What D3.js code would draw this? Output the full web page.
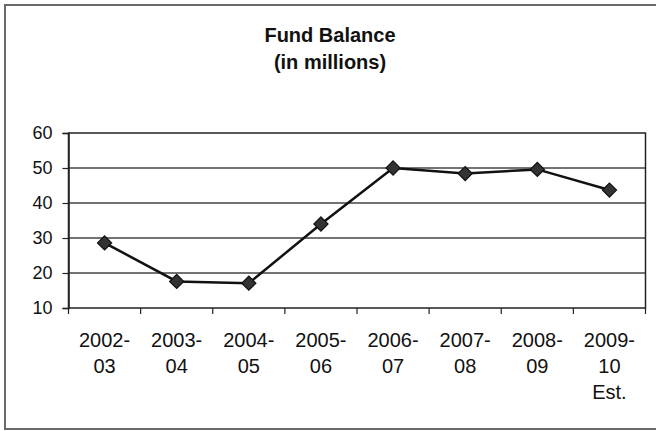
<!DOCTYPE html>
<html>
<head>
<meta charset="utf-8">
<script src="https://cdn.jsdelivr.net/npm/d3@7"></script>
<style>
  body { margin: 0; background: #fff; }
  svg text { font-family: "Liberation Sans", Arial, sans-serif; fill: #111; }
</style>
</head>
<body>
<svg id="chart" width="656" height="431"></svg>
<script>
// data
const categories = ["2002-\n03", "2003-\n04", "2004-\n05", "2005-\n06", "2006-\n07", "2007-\n08", "2008-\n09", "2009-\n10\nEst."];
const balances = [28.6, 17.6, 17.1, 34.0, 50.0, 48.4, 49.6, 43.7];
const yTicks = [10, 20, 30, 40, 50, 60];
const titleLines = ["Fund Balance", "(in millions)"];

const svg = d3.select("#chart");

// outer chart frame (right side runs off the page)
svg.append("rect")
  .attr("x", 5).attr("y", 5)
  .attr("width", 670).attr("height", 424)
  .attr("fill", "none")
  .attr("stroke", "#6a6a6a")
  .attr("stroke-width", 2);

// title
svg.append("g").selectAll("text")
  .data(titleLines)
  .join("text")
  .attr("x", 330)
  .attr("y", (d, i) => 42 + i * 27)
  .attr("text-anchor", "middle")
  .style("font-size", "20px")
  .style("font-weight", "bold")
  .text(d => d);

const margin = { left: 68.5, right: 645.5, top: 133, bottom: 308 };

const x = d3.scaleBand()
  .domain(categories)
  .range([margin.left, margin.right]);

const y = d3.scaleLinear()
  .domain([10, 60])
  .range([margin.bottom, margin.top]);

// gridlines
svg.append("g").selectAll("line")
  .data(yTicks.filter(t => t > 10 && t < 60))
  .join("line")
  .attr("x1", margin.left).attr("x2", margin.right)
  .attr("y1", d => y(d)).attr("y2", d => y(d))
  .attr("stroke", "#444")
  .attr("stroke-width", 1.5);

// plot frame
svg.append("rect")
  .attr("x", margin.left).attr("y", margin.top)
  .attr("width", margin.right - margin.left)
  .attr("height", margin.bottom - margin.top)
  .attr("fill", "none")
  .attr("stroke", "#222")
  .attr("stroke-width", 1.5);

// y axis
const yAxis = svg.append("g")
  .attr("transform", `translate(${margin.left},0)`)
  .call(d3.axisLeft(y).tickValues(yTicks).tickSize(6).tickPadding(10));
yAxis.select(".domain").attr("stroke", "#222").attr("stroke-width", 1.5);
yAxis.selectAll(".tick line").attr("stroke", "#222").attr("stroke-width", 1.2);
yAxis.selectAll("text")
  .style("font-size", "18px")
  .style("font-family", "'Liberation Sans', Arial, sans-serif")
  .attr("fill", "#111");

// x axis: ticks at the category boundaries
const boundaries = categories.map(c => x(c)).concat([margin.right]);
svg.append("g").selectAll("line")
  .data(boundaries)
  .join("line")
  .attr("x1", d => d).attr("x2", d => d)
  .attr("y1", margin.bottom).attr("y2", margin.bottom + 6)
  .attr("stroke", "#222")
  .attr("stroke-width", 1.2);

const labels = svg.append("g").selectAll("text")
  .data(categories)
  .join("text")
  .attr("text-anchor", "middle")
  .style("font-size", "20px");
labels.selectAll("tspan")
  .data(d => d.split("\n").map(s => ({ s, c: d })))
  .join("tspan")
  .attr("x", d => x(d.c) + x.bandwidth() / 2)
  .attr("y", (d, i) => 347 + i * 26)
  .text(d => d.s);

// line
const line = d3.line()
  .x((d, i) => x(categories[i]) + x.bandwidth() / 2)
  .y(d => y(d));

svg.append("path")
  .datum(balances)
  .attr("fill", "none")
  .attr("stroke", "#111")
  .attr("stroke-width", 2.5)
  .attr("d", line);

// diamond markers
svg.append("g").selectAll("path")
  .data(balances)
  .join("path")
  .attr("transform", (d, i) => `translate(${x(categories[i]) + x.bandwidth() / 2},${y(d)}) rotate(45)`)
  .attr("d", d3.symbol().type(d3.symbolSquare).size(100))
  .attr("fill", "#333")
  .attr("stroke", "#111")
  .attr("stroke-width", 1.2);
</script>
</body>
</html>
